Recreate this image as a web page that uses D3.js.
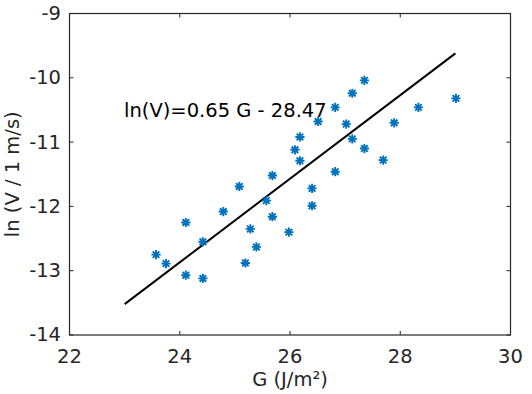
<!DOCTYPE html>
<html>
<head>
<meta charset="utf-8">
<script src="https://cdn.jsdelivr.net/npm/d3@7"></script>
<style>
  body { margin: 0; background: #fff; }
  svg text { font-family: "DejaVu Sans", sans-serif; fill: #262626; }
</style>
</head>
<body>
<div id="chart"></div>
<script>
// measured points: G (J/m2) and ln(V)
var gValues = [23.57, 23.75, 24.11, 24.42, 24.11, 24.42, 24.79, 25.08, 25.19, 25.28, 25.39,
    25.57, 25.68, 25.68, 25.98, 26.09, 26.18, 26.18, 26.40, 26.40, 26.51, 26.82,
    26.82, 27.02, 27.13, 27.13, 27.35, 27.35, 27.69, 27.89, 28.33, 29.01];
var lnvValues = [-12.75, -12.89, -13.07, -13.12, -12.25, -12.55, -12.08, -11.69, -12.88, -12.35, -12.63,
    -11.91, -11.52, -12.16, -12.40, -11.12, -10.92, -11.29, -11.72, -11.99, -10.68, -11.46,
    -10.46, -10.72, -10.95, -10.24, -10.04, -11.10, -11.28, -10.70, -10.46, -10.32];
var fitSlope = 0.65, fitIntercept = -28.47;
var fitRange = [23, 29];
var xTicks = [22, 24, 26, 28, 30];
var yTicks = [-14, -13, -12, -11, -10, -9];

var width = 532, height = 394;
var margin = { left: 69.5, right: 21.5, top: 13.5, bottom: 59 };

var svg = d3.select("#chart").append("svg")
    .attr("width", width)
    .attr("height", height);

var x = d3.scaleLinear().domain([22, 30]).range([margin.left, width - margin.right]);
var y = d3.scaleLinear().domain([-14, -9]).range([height - margin.bottom, margin.top]);

var axisColor = "#262626";
var fs = "19.5px";

// box
svg.append("rect")
    .attr("x", x(22)).attr("y", y(-9))
    .attr("width", x(30) - x(22)).attr("height", y(-14) - y(-9))
    .attr("fill", "none").attr("stroke", axisColor).attr("stroke-width", 1.2);

// ticks (inside, mirrored)
var tl = 4;
xTicks.forEach(function (t) {
    svg.append("line").attr("x1", x(t)).attr("x2", x(t)).attr("y1", y(-14)).attr("y2", y(-14) - tl)
        .attr("stroke", axisColor);
    svg.append("line").attr("x1", x(t)).attr("x2", x(t)).attr("y1", y(-9)).attr("y2", y(-9) + tl)
        .attr("stroke", axisColor);
    svg.append("text").attr("x", x(t)).attr("y", 362.5)
        .attr("text-anchor", "middle").style("font-size", fs).text(t);
});
yTicks.forEach(function (t) {
    svg.append("line").attr("x1", x(22)).attr("x2", x(22) + tl).attr("y1", y(t)).attr("y2", y(t))
        .attr("stroke", axisColor);
    svg.append("line").attr("x1", x(30)).attr("x2", x(30) - tl).attr("y1", y(t)).attr("y2", y(t))
        .attr("stroke", axisColor);
    svg.append("text").attr("x", 61).attr("y", y(t)).attr("dy", "0.33em")
        .attr("text-anchor", "end").style("font-size", fs).text(t < 0 ? "-" + Math.abs(t) : t);
});

// axis labels
svg.append("text").attr("x", (x(22) + x(30)) / 2).attr("y", 385.5)
    .attr("text-anchor", "middle").style("font-size", fs).text("G (J/m²)");
svg.append("text")
    .attr("transform", "translate(19," + ((y(-9) + y(-14)) / 2) + ") rotate(-90)")
    .attr("text-anchor", "middle").style("font-size", fs).text("ln (V / 1 m/s)");

// fit line
svg.append("line")
    .attr("x1", x(fitRange[0])).attr("y1", y(fitSlope * fitRange[0] + fitIntercept))
    .attr("x2", x(fitRange[1])).attr("y2", y(fitSlope * fitRange[1] + fitIntercept))
    .attr("stroke", "#000").attr("stroke-width", 2);

// asterisk markers
var r = 4.6, d = r * 0.72;
var star = "M" + (-r) + ",0L" + r + ",0M0," + (-r) + "L0," + r +
    "M" + (-d) + "," + (-d) + "L" + d + "," + d + "M" + (-d) + "," + d + "L" + d + "," + (-d);
svg.append("g").selectAll("path")
    .data(gValues)
    .enter().append("path")
    .attr("d", star)
    .attr("transform", function (g, i) { return "translate(" + x(g) + "," + y(lnvValues[i]) + ")"; })
    .attr("fill", "none").attr("stroke", "#0072BD").attr("stroke-width", 1.9);

// equation
svg.append("text").attr("x", 124).attr("y", 116.5)
    .style("font-size", fs).style("fill", "#000")
    .text("ln(V)=" + fitSlope + " G - " + Math.abs(fitIntercept));
</script>
</body>
</html>
